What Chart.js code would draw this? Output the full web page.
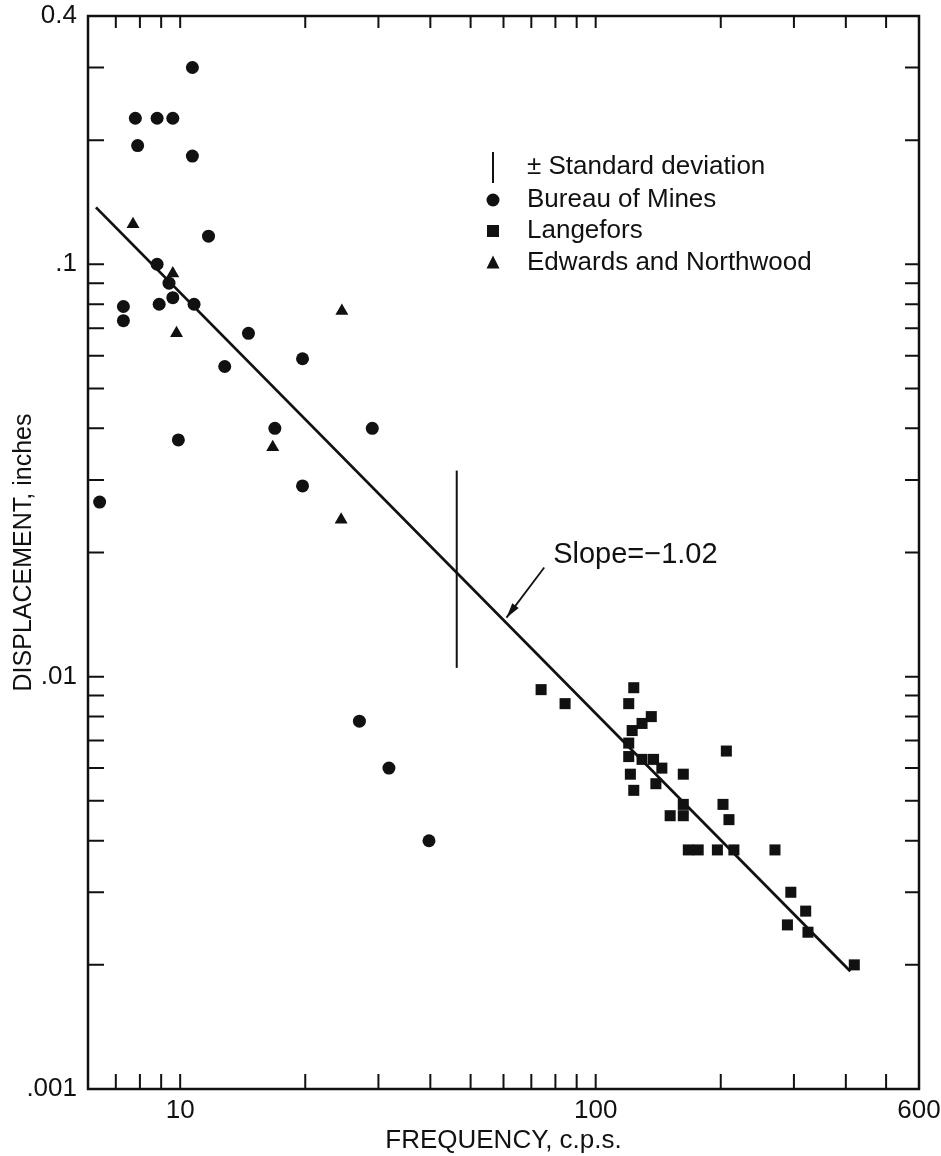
<!DOCTYPE html>
<html>
<head>
<meta charset="utf-8">
<script src="https://cdn.jsdelivr.net/npm/chart.js"></script>
<style>
html, body { margin: 0; padding: 0; background: #fff; }
canvas { display: block; }
</style>
</head>
<body>
<canvas id="myChart" width="941" height="1156"></canvas>
<script>
// Data

const bureauFreq = [10.7, 7.8, 8.8, 9.6, 7.9, 10.7, 11.7, 8.8, 9.4, 9.6, 7.3, 8.9, 10.8, 7.3,
    14.6, 19.7, 12.8, 16.9, 29.0, 9.9, 19.7, 6.4, 27.0, 31.8, 39.7];
const bureauDisp = [0.30, 0.226, 0.226, 0.226, 0.194, 0.183, 0.117, 0.100, 0.090, 0.083, 0.079, 0.080, 0.080, 0.073,
    0.068, 0.059, 0.0565, 0.040, 0.040, 0.0375, 0.029, 0.0265, 0.0078, 0.0060, 0.0040];

const langeforsFreq = [73.9, 84.4, 123.5, 120.1, 136.1, 129.3, 122.4, 120.1, 120.1, 129.3, 137.8, 144.3,
    121.2, 162.5, 139.6, 123.5, 206.3, 162.5, 151.1, 162.5, 202.5, 209.3, 167.1, 176.5, 196.3, 215.1,
    270.1, 294.9, 320.2, 289.4, 324.3, 419.2];
const langeforsDisp = [0.0093, 0.0086, 0.0094, 0.0086, 0.0080, 0.0077, 0.0074, 0.0069, 0.0064, 0.0063, 0.0063, 0.0060,
    0.0058, 0.0058, 0.0055, 0.0053, 0.0066, 0.0049, 0.0046, 0.0046, 0.0049, 0.0045, 0.0038, 0.0038, 0.0038, 0.0038,
    0.0038, 0.0030, 0.0027, 0.0025, 0.0024, 0.0020];

const edwardsFreq = [7.7, 9.6, 24.5, 9.8, 16.7, 24.4];
const edwardsDisp = [0.125, 0.095, 0.077, 0.068, 0.036, 0.024];

// fitted line, slope -1.02
const fitFreq = [6.27, 410];
const fitDisp = [0.1374, 0.00193];

// +/- standard deviation bar
const stdFreq = [46.3, 46.3];
const stdDisp = [0.0105, 0.0316];

// slope note: text anchor, arrow tail, arrow tip
const slopeText = "Slope=\u22121.02";
const slopeNoteFreq = [79, 75.2, 61];
const slopeNoteDisp = [0.0197, 0.0184, 0.0139];

const xTickValues = [10, 100, 600];
const xTickText = ["10", "100", "600"];
const yTickValues = [0.001, 0.01, 0.1, 0.4];
const yTickText = [".001", ".01", ".1", "0.4"];
const xMinorTicks = [7, 8, 9, 10, 20, 30, 40, 50, 60, 70, 80, 90, 100, 200, 300, 400, 500];
const yMinorTicks = [0.002, 0.003, 0.004, 0.005, 0.006, 0.007, 0.008, 0.009, 0.01,
    0.02, 0.03, 0.04, 0.05, 0.06, 0.07, 0.08, 0.09, 0.1, 0.2, 0.3];

const legendLabels = ["\u00b1 Standard deviation", "Bureau of Mines", "Langefors", "Edwards and Northwood"];

const toPoints = (xs, ys) => xs.map((x, i) => ({ x: x, y: ys[i] }));

const INK = "#111";
const FONT = "'Liberation Sans', Arial, sans-serif";

Chart.defaults.font.family = FONT;
Chart.defaults.color = INK;

// Plugins

const frame = {
    id: "frame",
    beforeDatasetsDraw(chart) {
        const { ctx, chartArea: a, scales: { x, y } } = chart;
        ctx.save();
        ctx.strokeStyle = INK;
        ctx.lineWidth = 2.5;
        ctx.strokeRect(a.left, a.top, a.right - a.left, a.bottom - a.top);
        ctx.lineWidth = 2;
        ctx.beginPath();
        for (const v of xMinorTicks) {
            const px = x.getPixelForValue(v);
            ctx.moveTo(px, a.bottom);
            ctx.lineTo(px, a.bottom - 15);
            ctx.moveTo(px, a.top);
            ctx.lineTo(px, a.top + 12);
        }
        for (const v of yMinorTicks) {
            const py = y.getPixelForValue(v);
            ctx.moveTo(a.left, py);
            ctx.lineTo(a.left + 16, py);
            ctx.moveTo(a.right, py);
            ctx.lineTo(a.right - 14, py);
        }
        ctx.stroke();
        ctx.restore();
    }
};

const notes = {
    id: "notes",
    afterDraw(chart) {
        const { ctx, scales: { x, y } } = chart;
        ctx.save();
        ctx.fillStyle = INK;
        ctx.strokeStyle = INK;

        // legend
        const mx = 493, tx = 527;
        const rows = [167, 200, 231, 263];
        ctx.font = "26px " + FONT;
        ctx.textBaseline = "middle";
        ctx.textAlign = "left";
        legendLabels.forEach((label, i) => ctx.fillText(label, tx, rows[i]));
        ctx.lineWidth = 2;
        ctx.beginPath();
        ctx.moveTo(mx, rows[0] - 15);
        ctx.lineTo(mx, rows[0] + 16);
        ctx.stroke();
        ctx.beginPath();
        ctx.arc(mx, rows[1], 6.5, 0, Math.PI * 2);
        ctx.fill();
        ctx.fillRect(mx - 6, rows[2] - 6, 12, 12);
        ctx.beginPath();
        ctx.moveTo(mx, rows[3] - 7.5);
        ctx.lineTo(mx + 6.5, rows[3] + 5.5);
        ctx.lineTo(mx - 6.5, rows[3] + 5.5);
        ctx.closePath();
        ctx.fill();

        // slope note with arrow
        const lx = x.getPixelForValue(slopeNoteFreq[0]), ly = y.getPixelForValue(slopeNoteDisp[0]);
        const ax = x.getPixelForValue(slopeNoteFreq[1]), ay = y.getPixelForValue(slopeNoteDisp[1]);
        const bx = x.getPixelForValue(slopeNoteFreq[2]), by = y.getPixelForValue(slopeNoteDisp[2]);
        ctx.font = "29px " + FONT;
        ctx.fillText(slopeText, lx, ly);
        ctx.lineWidth = 1.8;
        ctx.beginPath();
        ctx.moveTo(ax, ay);
        ctx.lineTo(bx, by);
        ctx.stroke();
        const ang = Math.atan2(by - ay, bx - ax);
        ctx.beginPath();
        ctx.moveTo(bx, by);
        ctx.lineTo(bx - 15 * Math.cos(ang) + 4 * Math.sin(ang), by - 15 * Math.sin(ang) - 4 * Math.cos(ang));
        ctx.lineTo(bx - 15 * Math.cos(ang) - 4 * Math.sin(ang), by - 15 * Math.sin(ang) + 4 * Math.cos(ang));
        ctx.closePath();
        ctx.fill();
        ctx.restore();
    }
};

// Setup

const data = {
    datasets: [
        {
            type: "line",
            label: "Fit",
            data: toPoints(fitFreq, fitDisp),
            borderColor: INK,
            borderWidth: 2.8,
            pointRadius: 0,
            order: 5
        },
        {
            type: "line",
            label: "Standard deviation",
            data: toPoints(stdFreq, stdDisp),
            borderColor: INK,
            borderWidth: 2,
            pointRadius: 0,
            order: 4
        },
        {
            label: "Bureau of Mines",
            data: toPoints(bureauFreq, bureauDisp),
            pointStyle: "circle",
            pointRadius: 6.5,
            backgroundColor: INK,
            borderWidth: 0,
            order: 1
        },
        {
            label: "Langefors",
            data: toPoints(langeforsFreq, langeforsDisp),
            pointStyle: "rect",
            pointRadius: 7.8,
            backgroundColor: INK,
            borderWidth: 0,
            order: 2
        },
        {
            label: "Edwards and Northwood",
            data: toPoints(edwardsFreq, edwardsDisp),
            pointStyle: "triangle",
            pointRadius: 7.5,
            backgroundColor: INK,
            borderWidth: 0,
            order: 3
        }
    ]
};

// Config

const config = {
    type: "scatter",
    data,
    options: {
        responsive: false,
        animation: false,
        layout: { padding: { top: 16, right: 22, left: 0, bottom: 0 } },
        plugins: {
            legend: { display: false },
            tooltip: { enabled: false }
        },
        scales: {
            x: {
                type: "logarithmic",
                min: 6,
                max: 600,
                grid: { display: false, drawTicks: false },
                border: { display: false },
                afterBuildTicks: (scale) => { scale.ticks = xTickValues.map(v => ({ value: v })); },
                afterFit: (scale) => {
                    scale.height = 67;
                    scale.paddingLeft = 0;
                    scale.paddingRight = 0;
                },
                ticks: {
                    autoSkip: false,
                    maxRotation: 0,
                    padding: 6,
                    font: { size: 26 },
                    callback: (value, index) => xTickText[index]
                },
                title: {
                    display: true,
                    text: "FREQUENCY, c.p.s.",
                    font: { size: 26 },
                    padding: { top: 0, bottom: 0 }
                }
            },
            y: {
                type: "logarithmic",
                min: 0.001,
                max: 0.4,
                grid: { display: false, drawTicks: false },
                border: { display: false },
                afterBuildTicks: (scale) => { scale.ticks = yTickValues.map(v => ({ value: v })); },
                afterFit: (scale) => {
                    scale.width = 88;
                    scale.paddingTop = 0;
                    scale.paddingBottom = 0;
                },
                ticks: {
                    autoSkip: false,
                    padding: 11,
                    font: { size: 26 },
                    callback: (value, index) => yTickText[index]
                },
                title: {
                    display: true,
                    text: "DISPLACEMENT, inches",
                    font: { size: 25 },
                    padding: { top: 9, bottom: 0 }
                }
            }
        }
    },
    plugins: [frame, notes]
};

// Render init block

const myChart = new Chart(document.getElementById("myChart"), config);
</script>
</body>
</html>
